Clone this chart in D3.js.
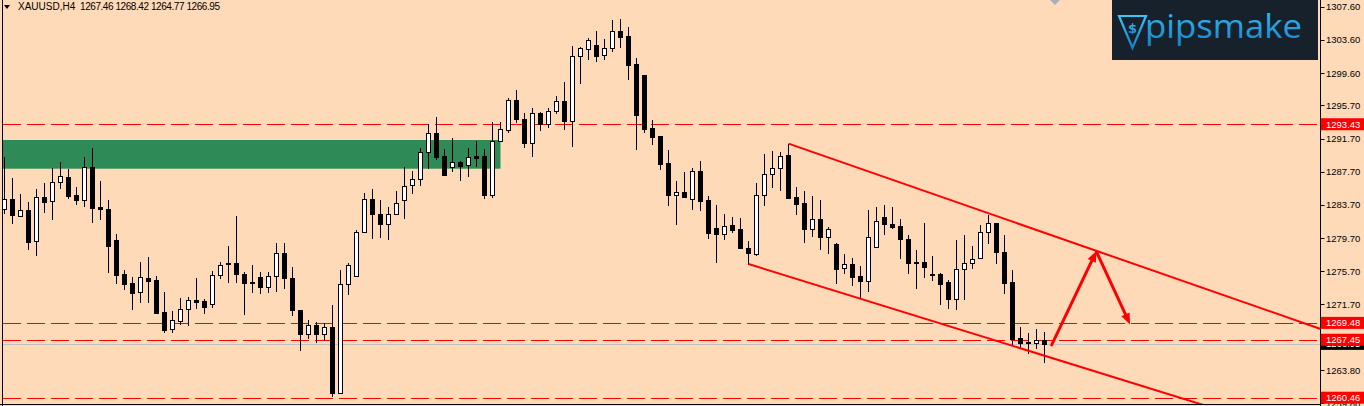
<!DOCTYPE html>
<html><head><meta charset="utf-8">
<script src="https://cdn.jsdelivr.net/npm/d3@7"></script>
<style>html,body{margin:0;padding:0;background:#ffdab9;overflow:hidden}svg{display:block}</style>
</head><body>
<svg id="c" width="1364" height="406"></svg>
<script>
const symbolTitle = "XAUUSD,H4";
const headerValues = ["1267.46","1268.42","1264.77","1266.95"];
const opens = [1283.18,1284.38,1282.33,1283.09,1279.32,1284.66,1284.14,1286.43,1287.03,1284.90,1284.33,1288.24,1283.45,1283.21,1279.48,1275.38,1274.29,1273.17,1274.89,1274.65,1270.80,1268.71,1269.75,1271.12,1272.21,1272.09,1271.72,1275.20,1276.74,1276.70,1275.38,1274.41,1275.02,1273.77,1275.10,1277.87,1274.86,1271.04,1268.18,1269.19,1268.18,1268.95,1261.03,1274.13,1275.17,1280.40,1284.38,1282.57,1281.37,1282.57,1284.33,1286.07,1286.79,1290.09,1292.38,1289.57,1288.24,1288.84,1288.48,1289.57,1289.60,1284.94,1291.45,1292.74,1296.32,1294.06,1291.21,1294.75,1293.42,1294.99,1296.23,1293.86,1301.62,1302.50,1302.98,1301.74,1302.62,1304.67,1304.03,1300.69,1299.37,1293.01,1292.01,1288.76,1284.87,1285.23,1284.38,1287.76,1284.30,1280.92,1280.16,1281.25,1280.80,1278.51,1277.82,1284.87,1287.40,1288.12,1289.72,1284.62,1283.94,1280.77,1282.01,1279.87,1278.99,1276.06,1276.55,1275.14,1274.57,1278.60,1282.21,1281.37,1281.16,1279.60,1276.86,1276.86,1275.34,1275.38,1274.41,1272.40,1275.94,1276.67,1277.27,1280.40,1281.49,1278.03,1274.41,1267.63,1267.21,1267.09,1267.46];
const highs = [1289.52,1286.91,1285.02,1284.09,1285.59,1286.38,1288.12,1288.88,1288.00,1285.90,1289.52,1290.60,1286.62,1284.30,1280.20,1275.86,1275.02,1276.82,1277.43,1275.14,1273.24,1270.92,1272.45,1272.64,1274.89,1272.40,1275.74,1276.82,1278.75,1282.37,1275.62,1276.46,1275.65,1275.65,1279.15,1279.15,1276.22,1271.04,1269.83,1269.63,1269.43,1271.64,1275.86,1276.74,1280.68,1285.11,1285.59,1284.26,1283.42,1285.38,1288.31,1287.76,1290.57,1293.42,1294.30,1290.41,1291.74,1289.00,1290.57,1291.41,1290.41,1293.70,1293.70,1296.56,1297.56,1294.75,1295.35,1294.94,1295.35,1296.84,1298.56,1302.86,1302.78,1303.83,1304.64,1303.67,1306.00,1306.12,1305.15,1301.42,1299.37,1293.94,1292.01,1290.33,1286.59,1287.67,1288.16,1289.00,1284.78,1283.70,1282.57,1282.21,1282.09,1279.32,1286.38,1289.84,1290.21,1290.09,1291.05,1285.83,1285.35,1284.78,1284.30,1281.08,1279.08,1277.75,1277.31,1276.38,1283.09,1283.42,1283.73,1283.45,1281.97,1280.08,1278.27,1281.49,1277.55,1275.46,1274.65,1279.48,1280.08,1278.75,1281.28,1282.49,1281.49,1280.08,1275.86,1269.02,1268.23,1268.71,1268.42];
const lows = [1282.77,1281.49,1282.33,1278.35,1277.70,1282.82,1282.01,1285.78,1284.54,1283.82,1283.61,1281.68,1281.97,1275.58,1274.33,1273.60,1271.19,1272.00,1271.97,1270.71,1268.35,1268.38,1269.39,1269.26,1271.31,1270.71,1271.36,1274.89,1274.45,1274.45,1270.59,1273.17,1273.12,1273.17,1273.36,1273.65,1270.40,1266.21,1267.63,1267.21,1267.42,1260.70,1260.99,1272.93,1275.17,1280.40,1279.75,1279.87,1279.56,1282.57,1282.16,1285.18,1286.14,1288.19,1289.28,1287.35,1287.83,1286.75,1287.19,1288.43,1284.58,1284.62,1291.45,1292.53,1293.74,1290.72,1289.60,1292.74,1293.14,1294.82,1292.82,1290.84,1298.37,1301.26,1301.09,1301.33,1302.26,1302.71,1298.85,1290.41,1292.46,1291.05,1288.00,1283.73,1281.37,1284.70,1283.18,1283.09,1279.72,1276.82,1279.56,1280.44,1278.47,1276.58,1277.67,1283.66,1285.83,1285.54,1284.50,1282.61,1279.27,1279.99,1278.43,1277.94,1274.33,1275.53,1274.09,1272.64,1273.36,1278.60,1280.16,1280.92,1277.27,1275.53,1273.73,1275.05,1274.65,1271.72,1271.28,1271.12,1272.36,1276.06,1277.27,1279.15,1276.67,1273.05,1266.82,1266.42,1265.82,1266.42,1264.77];
const closes = [1284.38,1282.45,1283.06,1279.27,1284.62,1284.09,1286.43,1287.16,1284.82,1284.33,1288.24,1283.37,1283.25,1278.79,1275.29,1274.21,1273.12,1275.02,1274.57,1270.71,1268.66,1269.80,1271.12,1272.21,1272.04,1271.43,1275.22,1276.50,1276.55,1275.38,1274.33,1274.33,1273.77,1275.14,1277.87,1274.86,1271.00,1268.18,1269.19,1268.18,1268.95,1261.03,1274.13,1276.46,1280.40,1284.38,1282.57,1281.37,1282.57,1283.90,1286.02,1286.79,1290.05,1292.34,1289.48,1287.35,1288.84,1288.43,1289.45,1289.36,1284.90,1291.37,1292.82,1296.32,1294.06,1291.21,1294.75,1293.46,1295.03,1296.23,1293.86,1301.62,1302.59,1303.55,1301.70,1302.59,1304.64,1303.99,1300.61,1294.58,1292.89,1291.93,1288.67,1284.87,1285.23,1284.70,1287.76,1284.21,1280.32,1280.20,1281.20,1280.72,1278.47,1277.94,1284.87,1287.43,1288.12,1289.57,1284.58,1283.82,1280.77,1281.97,1279.87,1280.80,1276.02,1276.55,1275.05,1274.57,1279.80,1281.77,1281.37,1281.08,1279.54,1276.67,1276.70,1276.26,1275.26,1274.21,1272.40,1275.94,1276.70,1277.15,1280.40,1281.49,1277.99,1274.33,1267.58,1267.02,1267.02,1267.46,1266.95];

const tickLabels = [1307.60,1303.60,1299.60,1295.70,1291.70,1287.70,1283.70,1279.70,1275.70,1271.70,1267.70,1263.80,1259.80];
const levelPrices = [1293.43,1269.48,1267.45,1260.46];
const bidPrice = 1266.95;
const zoneBars = [-5, 62];
const zonePrices = [1291.53, 1288.07];
const upperChannel = [[98, 1291.10],[123, 1282.70]];
const lowerChannel = [[93, 1276.58],[130, 1265.52]];
const arrowUp = [[130.9, 1266.82],[136.5, 1278.15]];
const arrowDown = [[136.5, 1278.05],[140.7, 1269.29]];

const W = 1364, H = 406, AXIS_X = 1320.5, BOTTOM = 404.5;
const svg = d3.select("#c");
const x = d3.scaleLinear().domain([0, 130]).range([4.5, 1044.5]);
const y = d3.scaleLinear().domain([1308.41, 1259.46]).range([0, 406]);

svg.append("rect").attr("width", W).attr("height", H).attr("fill", "#ffdab9");
const defs = svg.append("defs");
defs.append("clipPath").attr("id","plot").append("rect").attr("x",3).attr("y",0).attr("width",AXIS_X-3).attr("height",BOTTOM);

const plot = svg.append("g").attr("clip-path","url(#plot)");

// green zone
plot.append("rect")
  .attr("x", x(zoneBars[0])).attr("width", x(zoneBars[1]) - x(zoneBars[0]))
  .attr("y", y(zonePrices[0])).attr("height", y(zonePrices[1]) - y(zonePrices[0]))
  .attr("fill", "#2e8b57");

// gray bid line
plot.append("line").attr("x1",3).attr("x2",AXIS_X).attr("y1",Math.round(y(bidPrice))+0.5).attr("y2",Math.round(y(bidPrice))+0.5)
  .attr("stroke","#c0c0c0").attr("stroke-width",1);

// dashed red levels
plot.selectAll("line.lvl").data(levelPrices).join("line").attr("class","lvl")
  .attr("x1",3).attr("x2",AXIS_X)
  .attr("y1",d=>Math.round(y(d))+0.5).attr("y2",d=>Math.round(y(d))+0.5)
  .attr("stroke","#ff0000").attr("stroke-width",1).attr("stroke-dasharray","18,6");

// candles
const idx = d3.range(opens.length);
const cg = plot.append("g");
cg.selectAll("line.wick").data(idx).join("line").attr("class","wick")
  .attr("x1",i=>x(i)).attr("x2",i=>x(i))
  .attr("y1",i=>Math.round(y(highs[i]))).attr("y2",i=>Math.round(y(lows[i]))+1)
  .attr("stroke","#000").attr("stroke-width",1);
cg.selectAll("rect.body").data(idx).join("rect").attr("class","body")
  .each(function(i){
    const sel = d3.select(this);
    const yo = Math.round(y(opens[i])), yc = Math.round(y(closes[i]));
    if (closes[i] > opens[i]) {
      sel.attr("x", x(i)-2).attr("width",4).attr("y", yc+0.5).attr("height", Math.max(1, yo-yc))
        .attr("fill","#fff").attr("stroke","#000").attr("stroke-width",1);
    } else {
      sel.attr("x", x(i)-2.5).attr("width",5).attr("y", yo).attr("height", Math.max(1, yc-yo+1))
        .attr("fill","#000");
    }
  });

// channel rays
function ray(pts, xEnd){
  const [a,b] = pts;
  const slope = (b[1]-a[1])/(b[0]-a[0]);
  const iEnd = x.invert(xEnd);
  return [[x(a[0]), y(a[1])],[x(iEnd), y(a[1] + slope*(iEnd-a[0]))]];
}
[upperChannel, lowerChannel].forEach(pts=>{
  const p = ray(pts, AXIS_X+5);
  plot.append("line").attr("x1",p[0][0]).attr("y1",p[0][1]).attr("x2",p[1][0]).attr("y2",p[1][1])
    .attr("stroke","#ff0000").attr("stroke-width",2);
});

// arrows
function arrow(pts){
  const x1=x(pts[0][0]), y1=y(pts[0][1]), x2=x(pts[1][0]), y2=y(pts[1][1]);
  const ang = Math.atan2(y2-y1, x2-x1), L=11, Wd=4.5;
  const bx = x2 - L*Math.cos(ang), by = y2 - L*Math.sin(ang);
  plot.append("line").attr("x1",x1).attr("y1",y1).attr("x2",bx).attr("y2",by)
    .attr("stroke","#ff0000").attr("stroke-width",3).attr("stroke-linecap","round");
  const px = -Math.sin(ang), py = Math.cos(ang);
  plot.append("path").attr("d",`M${x2},${y2}L${bx+px*Wd},${by+py*Wd}L${bx-px*Wd},${by-py*Wd}Z`).attr("fill","#ff0000");
}
arrow(arrowUp); arrow(arrowDown);

// frame
svg.append("line").attr("x1",2.5).attr("x2",2.5).attr("y1",0).attr("y2",H).attr("stroke","#000");
svg.append("line").attr("x1",AXIS_X).attr("x2",AXIS_X).attr("y1",0).attr("y2",H).attr("stroke","#000");
svg.append("line").attr("x1",0).attr("x2",AXIS_X).attr("y1",BOTTOM).attr("y2",BOTTOM).attr("stroke","#000");

// shift marker
svg.append("path").attr("d","M1050,0L1060,0L1055,5Z").attr("fill","#a8b0c0");

// header
const font = "Tahoma, 'Liberation Sans', Arial, sans-serif";
svg.append("path").attr("d","M4,5L10,5L7,9Z").attr("fill","#000");
svg.append("text").attr("x",18).attr("y",10).attr("font-family",font).attr("font-size","10px").attr("fill","#000")
  .text(symbolTitle);
svg.append("text").attr("x",80).attr("y",10).attr("font-family",font).attr("font-size","10px").attr("fill","#000")
  .attr("textLength",140).attr("lengthAdjust","spacing")
  .text(headerValues.join(" "));

// axis ticks + labels
const ax = svg.append("g").attr("font-family",font).attr("font-size","9.5px");
ax.selectAll("line.t").data(tickLabels).join("line").attr("class","t")
  .attr("x1",AXIS_X).attr("x2",AXIS_X+4).attr("y1",d=>Math.round(y(d))+0.5).attr("y2",d=>Math.round(y(d))+0.5).attr("stroke","#000");
ax.selectAll("text.t").data(tickLabels).join("text").attr("class","t")
  .attr("x",1326).attr("y",d=>y(d)+3.5).attr("fill","#000").text(d=>d.toFixed(2));

// bid label (black)
ax.append("rect").attr("x",1321).attr("y",y(bidPrice)-6).attr("width",43).attr("height",12).attr("fill","#000");
ax.append("text").attr("x",1326).attr("y",y(bidPrice)+3.5).attr("fill","#fff").text(bidPrice.toFixed(2));
// red level labels
levelPrices.forEach(p=>{
  ax.append("rect").attr("x",1321).attr("y",y(p)-6).attr("width",43).attr("height",12).attr("fill","#ff0000");
  ax.append("text").attr("x",1326).attr("y",y(p)+3.5).attr("fill","#fff").text(p.toFixed(2));
});

// logo
const logo = svg.append("g");
logo.append("rect").attr("x",1112).attr("y",0).attr("width",206).attr("height",60).attr("fill","#17212b");
const grad = defs.append("linearGradient").attr("id","lg").attr("x1",0).attr("y1",0).attr("x2",0).attr("y2",1);
grad.append("stop").attr("offset","0%").attr("stop-color","#3cc4f4");
grad.append("stop").attr("offset","100%").attr("stop-color","#1580c8");
logo.append("path").attr("d","M1119,16L1146,16L1132.5,48Z").attr("fill","none").attr("stroke","url(#lg)").attr("stroke-width",2.2);
logo.append("text").attr("x",1132.5).attr("y",33).attr("text-anchor","middle").attr("font-family","'DejaVu Sans',sans-serif")
  .attr("font-size","13px").attr("font-weight","bold").attr("fill","url(#lg)").text("$");
logo.append("text").attr("x",1145).attr("y",38).attr("font-family","'Open Sans',sans-serif").attr("font-size","33px")
  .attr("font-weight","400").attr("fill","url(#lg)").attr("textLength",157).attr("lengthAdjust","spacingAndGlyphs").text("pipsmake");
</script>
</body></html>
